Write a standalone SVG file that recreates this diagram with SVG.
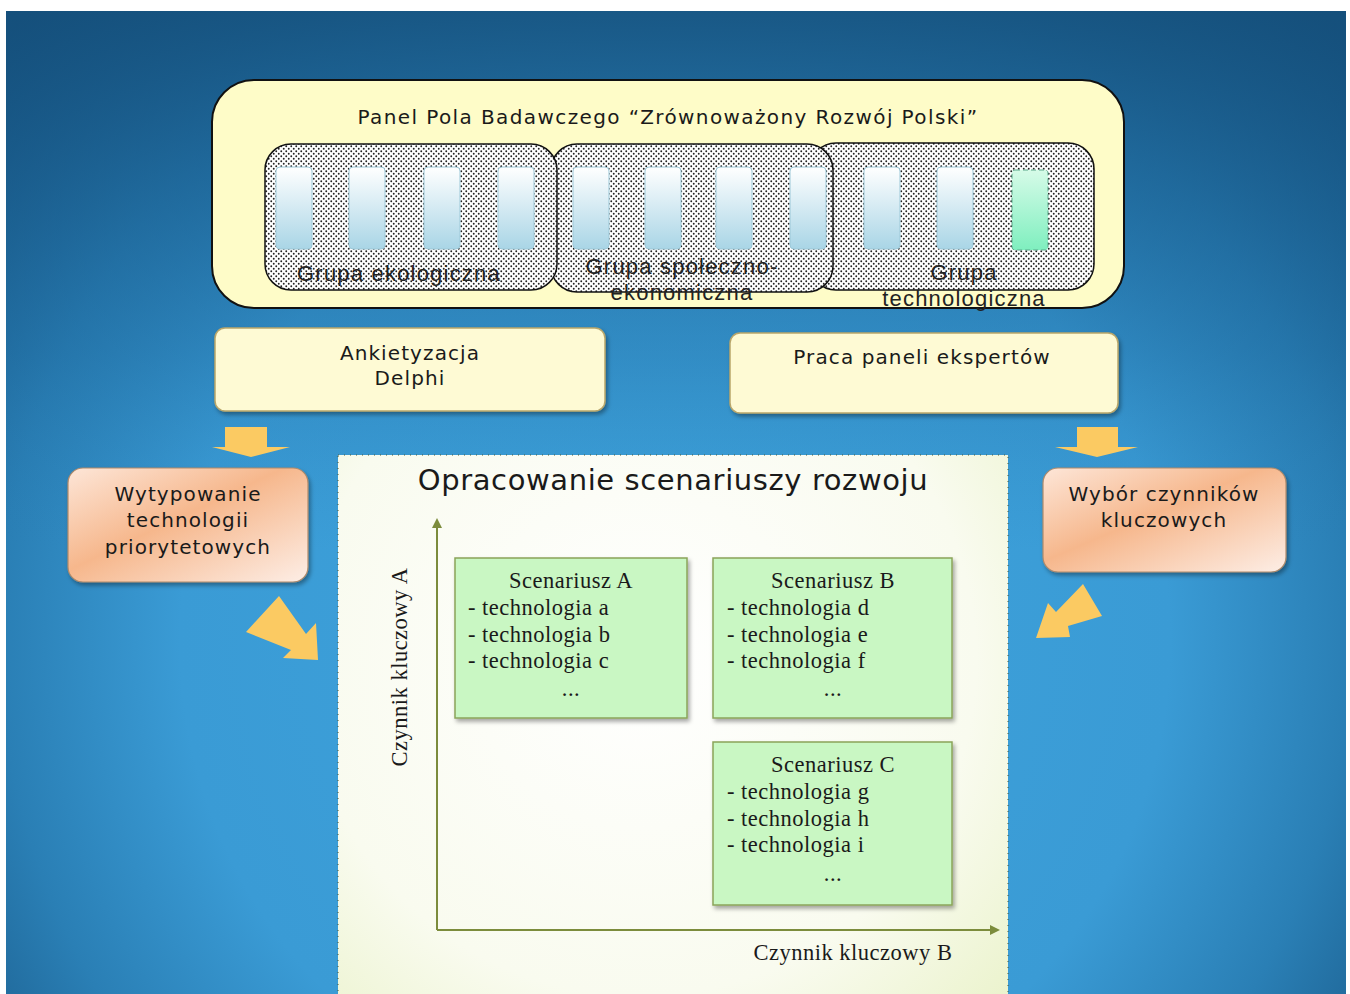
<svg xmlns="http://www.w3.org/2000/svg" width="1350" height="994" viewBox="0 0 1350 994">
<defs>
<radialGradient id="bg" cx="675" cy="640" r="900" gradientUnits="userSpaceOnUse">
<stop offset="0" stop-color="#3ea3dc"/>
<stop offset="0.55" stop-color="#3a9bd5"/>
<stop offset="0.75" stop-color="#2a7fb5"/>
<stop offset="1" stop-color="#144e7a"/>
</radialGradient>
<linearGradient id="bgTop" x1="0" y1="0" x2="0" y2="1">
<stop offset="0" stop-color="#15507c" stop-opacity="0.85"/>
<stop offset="0.35" stop-color="#1a6296" stop-opacity="0.3"/>
<stop offset="0.55" stop-color="#2a80b8" stop-opacity="0"/>
</linearGradient>
<pattern id="dots" width="5" height="5" patternUnits="userSpaceOnUse">
<rect width="5" height="5" fill="#ffffff"/>
<circle cx="1.25" cy="1.25" r="0.95" fill="#222"/>
<circle cx="3.75" cy="3.75" r="0.95" fill="#222"/>
</pattern>
<linearGradient id="pillar" x1="0" y1="0" x2="0" y2="1">
<stop offset="0" stop-color="#ffffff"/>
<stop offset="1" stop-color="#a9d5e6"/>
</linearGradient>
<linearGradient id="pillarG" x1="0" y1="0" x2="0" y2="1">
<stop offset="0" stop-color="#d6fbe8"/>
<stop offset="1" stop-color="#7fefbf"/>
</linearGradient>
<linearGradient id="orange" x1="0" y1="0" x2="1" y2="1">
<stop offset="0" stop-color="#fde6d8"/>
<stop offset="0.45" stop-color="#f6b78c"/>
<stop offset="1" stop-color="#fdeee6"/>
</linearGradient>
<radialGradient id="mainFill" cx="640" cy="660" r="560" gradientUnits="userSpaceOnUse">
<stop offset="0" stop-color="#ffffff"/>
<stop offset="0.6" stop-color="#f9fbef"/>
<stop offset="1" stop-color="#e6f0c0"/>
</radialGradient>
<filter id="sh" x="-10%" y="-10%" width="130%" height="130%">
<feDropShadow dx="2" dy="3" stdDeviation="2" flood-color="#000" flood-opacity="0.35"/>
</filter>
<marker id="axArrow" markerWidth="10" markerHeight="10" refX="8" refY="5" orient="auto" markerUnits="userSpaceOnUse">
<path d="M0,0 L10,5 L0,10 Z" fill="#7c8c3c"/>
</marker>
<style>
.sans{font-family:"DejaVu Sans","Liberation Sans",sans-serif;fill:#1a1a1a;font-size:20px;letter-spacing:1.1px}
.grp{font-family:"Liberation Sans","DejaVu Sans",sans-serif;fill:#222;font-size:22px;letter-spacing:1.2px}
.serif{font-family:"Liberation Serif","DejaVu Serif",serif;fill:#1a1a1a;font-size:22.5px;letter-spacing:0.5px}
.pil{fill:url(#pillar);stroke:#9cc8d8;stroke-width:1}
.yel{fill:#fefad4;stroke:#b9a66a;stroke-width:1.5}
.scn{fill:#c9f7c3;stroke:#8aa45a;stroke-width:1.5}
.arr{fill:#fbca62}
</style>
</defs>

<rect x="0" y="0" width="1350" height="994" fill="#ffffff"/>
<rect x="6" y="11" width="1340" height="983" fill="url(#bg)"/>
<rect x="6" y="11" width="1340" height="983" fill="url(#bgTop)"/>

<g id="panel">
<rect x="212" y="80" width="912" height="228" rx="42" fill="#fefcc8" stroke="#111" stroke-width="2"/>
<text class="sans" x="668" y="124" text-anchor="middle" style="letter-spacing:1.4px">Panel Pola Badawczego “Zrównoważony Rozwój Polski”</text>
</g>

<g id="grupa-technologiczna">
<rect x="810" y="143" width="284" height="147" rx="26" fill="url(#dots)" stroke="#111" stroke-width="1.5"/>
</g>
<g id="grupa-spoleczno">
<rect x="551" y="144" width="282" height="148" rx="26" fill="url(#dots)" stroke="#111" stroke-width="1.5"/>
</g>
<g id="grupa-ekologiczna">
<rect x="265" y="144" width="292" height="146" rx="26" fill="url(#dots)" stroke="#111" stroke-width="1.5"/>
</g>

<g id="pillars">
<rect class="pil" x="276" y="167" width="36" height="82" rx="4"/>
<rect class="pil" x="349" y="167" width="36" height="82" rx="4"/>
<rect class="pil" x="424" y="167" width="36" height="82" rx="4"/>
<rect class="pil" x="498" y="167" width="36" height="82" rx="4"/>
<rect class="pil" x="573" y="167" width="36" height="82" rx="4"/>
<rect class="pil" x="645" y="167" width="36" height="82" rx="4"/>
<rect class="pil" x="716" y="167" width="36" height="82" rx="4"/>
<rect class="pil" x="790" y="167" width="36" height="82" rx="4"/>
<rect class="pil" x="864" y="167" width="36" height="82" rx="4"/>
<rect class="pil" x="937" y="167" width="36" height="82" rx="4"/>
<rect x="1012" y="170" width="36" height="80" rx="3" fill="url(#pillarG)" stroke="#5aa88a" stroke-width="1" stroke-dasharray="5,3"/>
</g>

<g id="group-labels">
<text class="grp" x="399" y="281" text-anchor="middle">Grupa ekologiczna</text>
<text class="grp" x="682" y="274" text-anchor="middle">Grupa społeczno-</text>
<text class="grp" x="682" y="300" text-anchor="middle">ekonomiczna</text>
<text class="grp" x="964" y="280" text-anchor="middle">Grupa</text>
<text class="grp" x="964" y="306" text-anchor="middle">technologiczna</text>
</g>

<g id="ankietyzacja">
<rect class="yel" x="215" y="328" width="390" height="83" rx="10" filter="url(#sh)"/>
<text class="sans" x="410" y="360" text-anchor="middle">Ankietyzacja</text>
<text class="sans" x="410" y="385" text-anchor="middle">Delphi</text>
</g>

<g id="praca">
<rect class="yel" x="730" y="333" width="388" height="80" rx="10" filter="url(#sh)"/>
<text class="sans" x="922" y="364" text-anchor="middle">Praca paneli ekspertów</text>
</g>

<g id="wytypowanie">
<rect x="68" y="468" width="240" height="114" rx="15" fill="url(#orange)" stroke="#b08a6a" stroke-width="1.2" filter="url(#sh)"/>
<text class="sans" x="188" y="501" text-anchor="middle">Wytypowanie</text>
<text class="sans" x="188" y="527" text-anchor="middle">technologii</text>
<text class="sans" x="188" y="554" text-anchor="middle">priorytetowych</text>
</g>

<g id="wybor">
<rect x="1043" y="468" width="243" height="104" rx="15" fill="url(#orange)" stroke="#b08a6a" stroke-width="1.2" filter="url(#sh)"/>
<text class="sans" x="1164" y="501" text-anchor="middle">Wybór czynników</text>
<text class="sans" x="1164" y="527" text-anchor="middle">kluczowych</text>
</g>

<g id="opracowanie">
<rect x="338" y="455" width="670" height="540" fill="url(#mainFill)" stroke="#4a5a3a" stroke-width="1" stroke-dasharray="1,5"/>
<text x="673" y="490" font-family="DejaVu Sans, Liberation Sans, sans-serif" font-size="29" letter-spacing="0.6" fill="#1a1a1a" text-anchor="middle">Opracowanie scenariuszy rozwoju</text>
<text class="serif" x="0" y="0" text-anchor="middle" transform="translate(407,667) rotate(-90)">Czynnik kluczowy A</text>
<text class="serif" x="853" y="960" text-anchor="middle">Czynnik kluczowy B</text>
</g>

<g id="connectors">
<line x1="437" y1="930" x2="437" y2="520" stroke="#7c8c3c" stroke-width="2" marker-end="url(#axArrow)"/>
<line x1="437" y1="930" x2="998" y2="930" stroke="#7c8c3c" stroke-width="2" marker-end="url(#axArrow)"/>
<path class="arr" d="M225,427 H267 V447 H290 L251,457 L212,447 H225 Z"/>
<path class="arr" d="M1077,427 H1118 V447 H1138 L1097,457 L1055,447 H1077 Z"/>
<path class="arr" d="M279,596 L246,632 L291,650 L283,658 L318,660 L316,623 L306,634 Z"/>
<path class="arr" d="M1083,584 L1102,616 L1068,626 L1070,637 L1036,638 L1048,603 L1056,612 Z"/>
</g>

<g id="scenariusz-a">
<rect class="scn" x="455" y="558" width="232" height="160" filter="url(#sh)"/>
<text class="serif" x="571" y="588" text-anchor="middle">Scenariusz A</text>
<text class="serif" x="468" y="615">- technologia a</text>
<text class="serif" x="468" y="642">- technologia b</text>
<text class="serif" x="468" y="668">- technologia c</text>
<text class="serif" x="571" y="696" font-size="16" text-anchor="middle">...</text>
</g>

<g id="scenariusz-b">
<rect class="scn" x="713" y="558" width="239" height="160" filter="url(#sh)"/>
<text class="serif" x="833" y="588" text-anchor="middle">Scenariusz B</text>
<text class="serif" x="727" y="615">- technologia d</text>
<text class="serif" x="727" y="642">- technologia e</text>
<text class="serif" x="727" y="668">- technologia f</text>
<text class="serif" x="833" y="696" font-size="16" text-anchor="middle">...</text>
</g>

<g id="scenariusz-c">
<rect class="scn" x="713" y="742" width="239" height="163" filter="url(#sh)"/>
<text class="serif" x="833" y="772" text-anchor="middle">Scenariusz C</text>
<text class="serif" x="727" y="799">- technologia g</text>
<text class="serif" x="727" y="826">- technologia h</text>
<text class="serif" x="727" y="852">- technologia i</text>
<text class="serif" x="833" y="881" font-size="16" text-anchor="middle">...</text>
</g>
</svg>
